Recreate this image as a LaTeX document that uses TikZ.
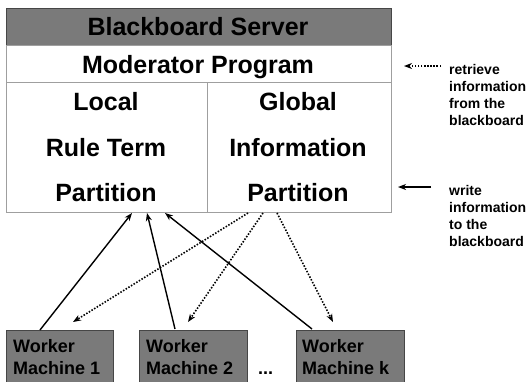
\documentclass[tikz,border=0pt]{standalone}
\usepackage{fontspec}
\setmainfont{Liberation Sans}
\usetikzlibrary{arrows.meta}
\begin{document}
\begin{tikzpicture}[x=1pt,y=-1pt,
 boxnode/.style={inner sep=0pt, outer sep=0pt, anchor=north west},
 big/.style={font=\fontsize{25}{30}\selectfont\bfseries, anchor=base, inner sep=0pt},
 side/.style={font=\fontsize{14}{17}\selectfont\bfseries, anchor=base west, inner sep=0pt},
 wtext/.style={font=\fontsize{18}{21}\selectfont\bfseries, anchor=base west, inner sep=0pt},
 frame/.style={draw=gray!75, line width=0.8pt},
 darkbox/.style={fill=black!52, draw=gray!55!black, line width=0.8pt},
 sarrow/.style={-{Stealth[length=8pt,width=6pt,inset=2.5pt]}, line width=1.4pt},
 darrow/.style={-{Stealth[length=8pt,width=6pt,inset=2.5pt]}, line width=1.6pt, dash pattern=on 1.5pt off 1.6pt}]
\clip (0,0) rectangle (528,381);
\fill[white] (0,0) rectangle (528,381);

% server boxes
\node[boxnode, darkbox, minimum width=385pt, minimum height=37pt] (hdr) at (6,8) {};
\node[boxnode, frame, minimum width=385pt, minimum height=37pt] (mod) at (6,45) {};
\node[boxnode, frame, minimum width=201pt, minimum height=130pt] (loc) at (6,82) {};
\node[boxnode, frame, minimum width=184pt, minimum height=130pt] (glob) at (207,82) {};

\node[big] (t1) at (198,35) {Blackboard Server};
\node[big] (t2) at (198,73) {Moderator Program};
\node[big] (l1) at (106,110) {Local};
\node[big] (l2) at (106,156) {Rule Term};
\node[big] (l3) at (106,201) {Partition};
\node[big] (g1) at (298,110) {Global};
\node[big] (g2) at (298,156) {Information};
\node[big] (g3) at (298,201) {Partition};

% workers
\node[boxnode, darkbox, minimum width=107pt, minimum height=70pt] (w1) at (6,330) {};
\node[boxnode, darkbox, minimum width=108pt, minimum height=70pt] (w2) at (139,330) {};
\node[boxnode, darkbox, minimum width=108pt, minimum height=70pt] (wk) at (296,330) {};
\node[wtext] (w1a) at (13,352) {Worker};
\node[wtext] (w1b) at (13,374) {Machine 1};
\node[wtext] (w2a) at (146,352) {Worker};
\node[wtext] (w2b) at (146,374) {Machine 2};
\node[wtext] (wka) at (302,352) {Worker};
\node[wtext] (wkb) at (302,374) {Machine k};
\node[wtext] (dots) at (258,374) {...};

% connector end points
\coordinate (w1top) at (40,330);
\coordinate (w2top) at (175,329);
\coordinate (wktop) at (312,329);
\coordinate (la) at (132,213);
\coordinate (lb) at (147,213);
\coordinate (lc) at (165,213);
\coordinate (ga) at (248,213);
\coordinate (gb) at (263,213);
\coordinate (gc) at (277,213);
\coordinate (w1in) at (73,322);
\coordinate (w2in) at (188,322);
\coordinate (wkin) at (333,322);

\draw[sarrow] (w1top) -- (la);
\draw[sarrow] (w2top) -- (lb);
\draw[sarrow] (wktop) -- (lc);
\draw[darrow] (ga) -- (w1in);
\draw[darrow] (gb) -- (w2in);
\draw[darrow] (gc) -- (wkin);

% legend
\coordinate (r0) at (441,66);
\coordinate (r1) at (404,66);
\coordinate (s0) at (431,187);
\coordinate (s1) at (398,187);
\draw[darrow] (r0) -- (r1);
\draw[sarrow] (s0) -- (s1);

\node[side] (ra) at (449,74) {retrieve};
\node[side] (rb) at (449,91) {information};
\node[side] (rc) at (449,108) {from the};
\node[side] (rd) at (449,125) {blackboard};
\node[side] (sa) at (449,195) {write};
\node[side] (sb) at (449,212) {information};
\node[side] (sc) at (449,229) {to the};
\node[side] (sd) at (449,246) {blackboard};
\end{tikzpicture}
\end{document}
